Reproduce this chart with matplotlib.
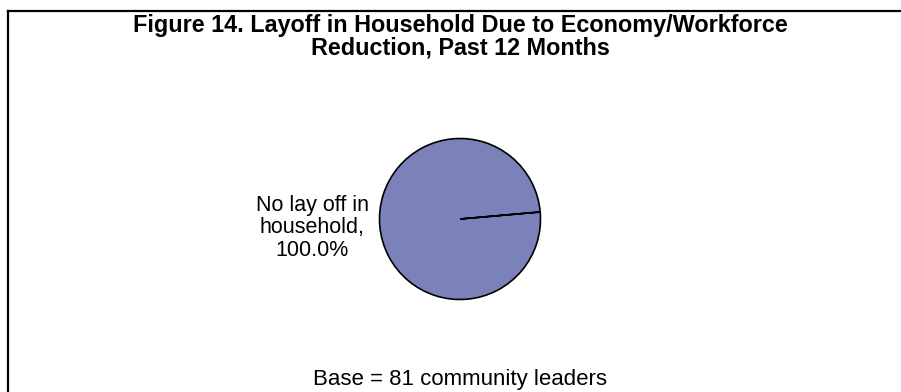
import matplotlib.pyplot as plt
from matplotlib.lines import Line2D

plt.rcParams['font.family'] = ['Liberation Sans', 'DejaVu Sans']

title = 'Figure 14. Layoff in Household Due to Economy/Workforce\nReduction, Past 12 Months'
labels = ['No lay off in\nhousehold,\n100.0%']
values = [100.0]
base_note = 'Base = 81 community leaders'
pie_color = '#7B82B9'

W, H = 901, 392
fig = plt.figure(figsize=(W / 100, H / 100), dpi=100)

# frame lines (only top and left are visible in the crop)
fig.add_artist(Line2D([8 / W, 1.0], [1 - 11 / H] * 2, color='black', lw=1.6))
fig.add_artist(Line2D([8 / W] * 2, [0, 1 - 11 / H], color='black', lw=1.6))

fig.text(460 / W, 1 - 37 / H, title, ha='center', va='center',
         fontsize=16.8, fontweight='bold', linespacing=1.0)

# pie: center (460, 219), radius ~80 px
r = 80.5
ax = fig.add_axes([(460 - r) / W, (H - 219 - r) / H, 2 * r / W, 2 * r / H])
ax.pie(values, colors=[pie_color], startangle=5,
       wedgeprops=dict(edgecolor='black', linewidth=1.2))
ax.set_xlim(-1, 1)
ax.set_ylim(-1, 1)
ax.set_aspect('auto')
ax.axis('off')

fig.text(312 / W, 1 - 228 / H, labels[0], ha='center', va='center',
         fontsize=15.5, linespacing=1.1)

fig.text(460 / W, 1 - 379 / H, base_note, ha='center', va='center', fontsize=16)

fig.savefig('out.png', dpi=100)
